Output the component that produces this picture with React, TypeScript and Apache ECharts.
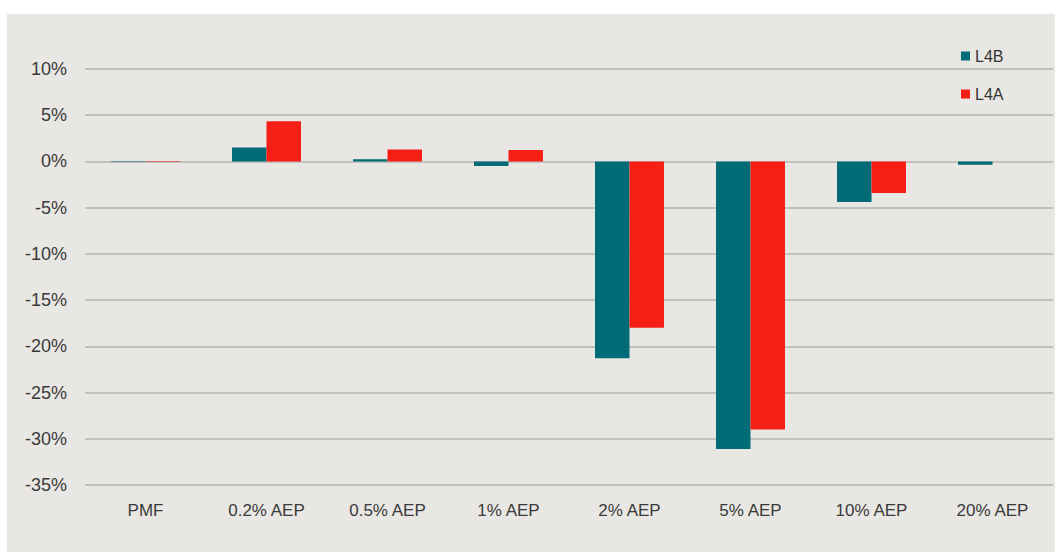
import React, { useEffect, useRef } from "react";
import * as echarts from "echarts";

const categories = ["PMF", "0.2% AEP", "0.5% AEP", "1% AEP", "2% AEP", "5% AEP", "10% AEP", "20% AEP"];
const l4b = [0.05, 1.5, 0.25, -0.5, -21.3, -31.1, -4.4, -0.35];
const l4a = [0.05, 4.35, 1.3, 1.25, -18.0, -29.0, -3.4, 0];
const yMin = -35;
const yMax = 10;
const yStep = 5;

export default function App() {
  const ref = useRef<HTMLDivElement>(null);
  useEffect(() => {
    if (!ref.current) return;
    const chart = echarts.init(ref.current, null, { renderer: "svg" });
    const font = "'Liberation Sans', Arial, sans-serif";
    chart.setOption({
      animation: false,
      backgroundColor: "#ffffff",
      graphic: [
        {
          type: "rect",
          z: -10,
          silent: true,
          shape: { x: 7, y: 14, width: 1048, height: 538 },
          style: { fill: "#e8e7e3" },
        },
      ],
      legend: {
        orient: "vertical",
        left: 956,
        top: 43,
        itemWidth: 9,
        itemHeight: 9,
        itemGap: 22,
        icon: "rect",
        textStyle: { fontFamily: font, fontSize: 16, color: "#333333" },
        data: ["L4B", "L4A"],
      },
      grid: { left: 85, right: 2, top: 69, bottom: 67, containLabel: false },
      xAxis: {
        type: "category",
        data: categories,
        axisLine: { show: false, onZero: false },
        axisTick: { show: false },
        axisLabel: { fontFamily: font, fontSize: 17, color: "#3a3a3a", margin: 17 },
      },
      yAxis: {
        type: "value",
        min: yMin,
        max: yMax,
        interval: yStep,
        axisLine: { show: false },
        axisTick: { show: false },
        splitLine: { lineStyle: { color: "#b7b5b1", width: 1.5 } },
        axisLabel: {
          fontFamily: font,
          fontSize: 18,
          color: "#3a3a3a",
          margin: 18,
          formatter: (v: number) => `${v}%`,
        },
      },
      series: [
        {
          name: "L4B",
          type: "bar",
          data: l4b,
          itemStyle: { color: "#016b78" },
          barGap: "0%",
          barCategoryGap: "43%",
        },
        {
          name: "L4A",
          type: "bar",
          data: l4a,
          itemStyle: { color: "#f61f16" },
          barGap: "0%",
          barCategoryGap: "43%",
        },
      ],
    });
    return () => chart.dispose();
  }, []);
  return (
    <div
      ref={ref}
      style={{ position: "fixed", left: 0, top: 0, width: 1055, height: 552, background: "#ffffff" }}
    />
  );
}
